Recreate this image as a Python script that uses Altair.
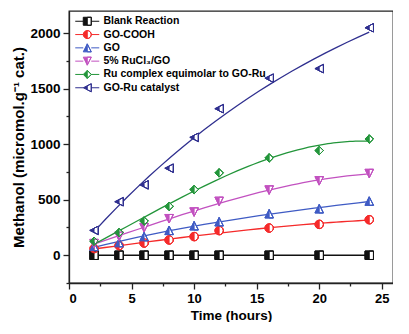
import altair as alt
import pandas as pd

# ---- data ----
hours = [2, 4, 6, 8, 10, 12, 16, 20, 24]
series_names = [
    "Blank Reaction",
    "GO-COOH",
    "GO",
    "5% RuCl\u2083/GO",
    "Ru complex equimolar to GO-Ru",
    "GO-Ru catalyst",
]
blank = [0, 0, 0, 0, 0, 0, 0, 0, 0]
go_cooh = [60, 87, 110, 138, 168, 222, 245, 278, 320]
go = [80, 114, 168, 224, 266, 302, 374, 419, 488]
rucl3_go = [105, 170, 248, 329, 389, 485, 587, 670, 736]
ru_complex = [126, 204, 308, 440, 592, 742, 877, 943, 1047]
go_ru = [224, 482, 634, 784, 1062, 1320, 1595, 1681, 2049]
series_values = [blank, go_cooh, go, rucl3_go, ru_complex, go_ru]
series_colors = ["#111111", "#f52a2a", "#3f5bc4", "#c251c0", "#22953a", "#2f2f8f"]

# marker outlines (unit box) and "left-half filled" variants (right half is a hole)
outer_paths = [
    "M-1,-1L1,-1L1,1L-1,1Z",
    "M0,-1A1,1,0,0,1,0,1A1,1,0,0,1,0,-1Z",
    "M0,-1L1,1L-1,1Z",
    "M-1,-1L1,-1L0,1Z",
    "M0,-1L1,0L0,1L-1,0Z",
    "M-1,0L1,-1L1,1Z",
]
hole_paths = [
    "M0,-1L0,1L1,1L1,-1Z",
    "M0,-1L0,1A1,1,0,0,0,0,-1Z",
    "M0,-1L0,1L1,1Z",
    "M0,-1L0,1L1,-1Z",
    "M0,-1L0,1L1,0Z",
    "M0,-0.5L0,0.5L1,1L1,-1Z",
]
half_paths = [o + h for o, h in zip(outer_paths, hole_paths)]
legend_paths = ["M-3,0L-1,0M1,0L3,0" + p for p in half_paths]

rows = []
for name, vals, col, op, hp in zip(series_names, series_values, series_colors, outer_paths, half_paths):
    for t, v in zip(hours, vals):
        rows.append({"series": name, "color": col, "x": t, "y": v, "outer": op, "half": hp})
df = pd.DataFrame(rows)

FONT = "Liberation Sans"

x_enc = alt.X(
    "x:Q",
    scale=alt.Scale(domain=[0, 25.9], nice=False, zero=False),
    axis=alt.Axis(
        title="Time (hours)",
        values=[0, 2.5, 5, 7.5, 10, 12.5, 15, 17.5, 20, 22.5, 25],
        labelExpr="datum.value % 5 === 0 ? datum.label : ''",
        tickSize={"condition": {"test": "datum.value % 5 === 0", "value": 6}, "value": 3},
        grid=False,
        labelPadding=3,
        titlePadding=3,
        labelFontSize=13,
        titleFontSize=13.5,
    ),
)
y_enc = alt.Y(
    "y:Q",
    scale=alt.Scale(domain=[-250, 2200], nice=False, zero=False),
    axis=alt.Axis(
        title="Methanol (micromol.g\u207b\u00b9 cat.)",
        values=[-250, 0, 250, 500, 750, 1000, 1250, 1500, 1750, 2000],
        format="d",
        labelExpr="datum.value % 500 === 0 ? datum.label : ''",
        tickSize={"condition": {"test": "datum.value % 500 === 0", "value": 6}, "value": 3},
        grid=False,
        labelPadding=3,
        titlePadding=3,
        titleFontSize=15,
    ),
)

base = alt.Chart(df)

lines = base.transform_regression(
    "x", "y", groupby=["series", "color"], method="poly", order=3, extent=[2, 24]
).mark_line(strokeWidth=1.3).encode(
    x=x_enc, y=y_enc,
    color=alt.Color("color:N", scale=None),
    detail="series:N",
)

pts_outer = base.mark_point(filled=True, fill="white", size=72, opacity=1, strokeWidth=1).encode(
    x=x_enc, y=y_enc,
    stroke=alt.Stroke("color:N", scale=None),
    shape=alt.Shape("outer:N", scale=None),
)
pts_half = base.mark_point(filled=True, size=72, opacity=1, strokeWidth=1).encode(
    x=x_enc, y=y_enc,
    fill=alt.Fill("color:N", scale=None),
    stroke=alt.Stroke("color:N", scale=None),
    shape=alt.Shape("half:N", scale=None),
)

leg = alt.Legend(
    title=None, orient="none", legendX=13, legendY=5, padding=0,
    labelFont=FONT, labelFontSize=10.5, labelFontWeight="bold", labelColor="black",
    labelLimit=0,
    symbolSize=64, symbolStrokeWidth=1, symbolOpacity=1,
    labelOffset=11, rowPadding=0.3,
)
legend_layer = base.transform_filter("false").mark_point(filled=True, size=64, opacity=1, strokeWidth=1).encode(
    fill=alt.Fill("series:N", scale=alt.Scale(domain=series_names, range=series_colors), legend=leg, sort=series_names),
    stroke=alt.Stroke("series:N", scale=alt.Scale(domain=series_names, range=series_colors), legend=leg, sort=series_names),
    shape=alt.Shape("series:N", scale=alt.Scale(domain=series_names, range=legend_paths), legend=leg, sort=series_names),
)

chart = alt.layer(lines, pts_outer, pts_half, legend_layer).properties(
    width=324, height=272,
    padding={"left": 3, "top": 3, "right": 0, "bottom": 0},
    background="white",
).configure_view(
    stroke="#222222", strokeWidth=1.3
).configure_axis(
    labelFont=FONT, titleFont=FONT,
    labelFontSize=13.5, labelFontWeight="bold", labelColor="black",
    titleFontSize=14, titleFontWeight="bold", titleColor="black",
    domainColor="#222222", domainWidth=1.3, tickColor="#222222", tickWidth=1.3,
)

chart.save("out.html", embed_options={"renderer": "svg", "actions": False})
